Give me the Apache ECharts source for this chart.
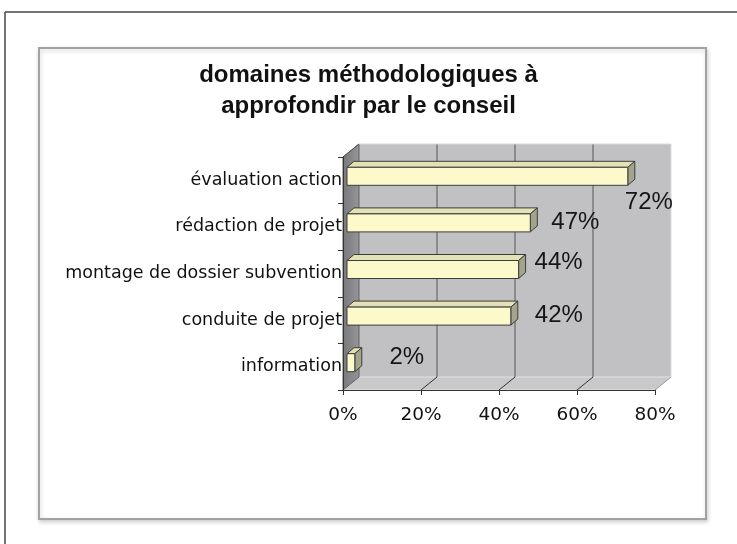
<!DOCTYPE html>
<html>
<head>
<meta charset="utf-8">
<script src="https://cdn.jsdelivr.net/npm/echarts@6/dist/echarts.min.js"></script>
<style>
html,body{margin:0;padding:0;background:#fff;}
#main{width:737px;height:544px;}
</style>
</head>
<body>
<div id="main"></div>
<script>
// ---- data ----
const titleText = 'domaines méthodologiques à\napprofondir par le conseil';
const categories = ['évaluation action', 'rédaction de projet', 'montage de dossier subvention', 'conduite de projet', 'information'];
const values = [72, 47, 44, 42, 2];
const xTicks = [0, 20, 40, 60, 80];

// label offsets (px) of each value label from its bar end (style, not data)
const labelOffsets = [[21, 26], [45, -1], [40, -7], [48, -1], [52, -5]];

const DX = 16, DY = -13;   // depth of the 3D box
const chart = echarts.init(document.getElementById('main'), null, {renderer: 'canvas'});

function wallsRender(params, api) {
  const n = categories.length;
  const a = api.coord([xTicks[0], 0]);
  const b = api.coord([xTicks[xTicks.length - 1], n - 1]);
  const bh = api.size([0, 1])[1];
  const L = a[0], R = b[0], T = a[1] - bh / 2, B = b[1] + bh / 2;
  const children = [];
  children.push({type: 'rect', shape: {x: L + DX, y: T + DY, width: R - L, height: B - T},
    style: {fill: '#c1c1c3'}});
  children.push({type: 'polygon', shape: {points: [[L, B], [L + DX, B + DY], [R + DX, B + DY], [R, B]]},
    style: {fill: '#c9c9cb', stroke: '#e2e2e2', lineWidth: 1}});
  children.push({type: 'polygon', shape: {points: [[L, T], [L + DX, T + DY], [L + DX, B + DY], [L, B]]},
    style: {fill: new echarts.graphic.LinearGradient(0, 0, 1, 0, [
      {offset: 0, color: '#78787b'}, {offset: 1, color: '#96969a'}]), stroke: '#606060', lineWidth: 1}});
  xTicks.forEach(function (t, k) {
    const x = api.coord([t, 0])[0];
    if (k > 0 && k < xTicks.length - 1) {
      children.push({type: 'line', shape: {x1: x + DX, y1: T + DY, x2: x + DX, y2: B + DY},
        style: {stroke: '#555', lineWidth: 1}});
    }
    if (k > 0) {
      children.push({type: 'line', shape: {x1: x, y1: B, x2: x + DX, y2: B + DY},
        style: {stroke: k === xTicks.length - 1 ? '#9a9a9a' : '#333', lineWidth: 1}});
    }
  });
  children.push({type: 'line', shape: {x1: R + DX, y1: T + DY, x2: R + DX, y2: B + DY},
    style: {stroke: '#dcdcdc', lineWidth: 1}});
  children.push({type: 'line', shape: {x1: L + DX, y1: T + DY, x2: R + DX, y2: T + DY},
    style: {stroke: '#d8d8d8', lineWidth: 1}});
  children.push({type: 'line', shape: {x1: L, y1: T, x2: L + DX, y2: T + DY},
    style: {stroke: '#555', lineWidth: 1}});
  return {type: 'group', children: children};
}

function barRender(params, api) {
  const v = api.value(0), i = api.value(1);
  const s = api.coord([0, i]), e = api.coord([v, i]);
  const ox = 4, oy = -4, h = 18, dx = 7, dy = -6;
  const x0 = s[0] + ox, x1 = e[0] + ox, yc = s[1] + oy;
  const y0 = yc - h / 2, y1 = yc + h / 2;
  const line = {stroke: '#3c3c3c', lineWidth: 1, lineJoin: 'round'};
  const off = labelOffsets[i] || [30, 0];
  return {type: 'group', children: [
    {type: 'polygon', shape: {points: [[x0, y0], [x0 + dx, y0 + dy], [x1 + dx, y0 + dy], [x1, y0]]},
      style: Object.assign({fill: '#e4e2b4'}, line)},
    {type: 'polygon', shape: {points: [[x1, y0], [x1 + dx, y0 + dy], [x1 + dx, y1 + dy], [x1, y1]]},
      style: Object.assign({fill: '#a3a48a'}, line)},
    {type: 'rect', shape: {x: x0, y: y0, width: x1 - x0, height: h},
      style: Object.assign({fill: '#fcfacb'}, line)},
    {type: 'text', x: x1 + off[0], y: yc + off[1],
      style: {text: v + '%', fill: '#161616', fontSize: 24, fontFamily: 'Liberation Sans',
        align: 'center', verticalAlign: 'middle'}}
  ]};
}

const option = {
  backgroundColor: '#ffffff',
  animation: false,
  graphic: [
    {type: 'line', z: 0, shape: {x1: 5, y1: 12, x2: 737, y2: 12}, style: {stroke: '#444', lineWidth: 1.5}},
    {type: 'line', z: 0, shape: {x1: 5, y1: 12, x2: 5, y2: 544}, style: {stroke: '#444', lineWidth: 1.5}},
    {type: 'rect', z: 0, shape: {x: 39, y: 48, width: 667, height: 471},
      style: {fill: '#ffffff', stroke: '#a2a2a2', lineWidth: 2,
        shadowBlur: 4, shadowColor: 'rgba(0,0,0,0.18)', shadowOffsetX: 1, shadowOffsetY: 2}}
  ],
  title: {
    text: titleText,
    left: 'center',
    top: 55,
    textStyle: {fontFamily: 'Liberation Sans', fontWeight: 'bold', fontSize: 24, lineHeight: 31, color: '#111'}
  },
  grid: {left: 343, top: 157, width: 312, height: 233, containLabel: false},
  xAxis: {
    type: 'value', min: xTicks[0], max: xTicks[xTicks.length - 1], interval: xTicks[1] - xTicks[0],
    z: 3,
    axisLine: {show: true, lineStyle: {color: '#333', width: 1}},
    axisTick: {show: true, length: 5, lineStyle: {color: '#333'}},
    splitLine: {show: false},
    axisLabel: {formatter: '{value}%', fontFamily: 'DejaVu Sans', fontSize: 18.5, color: '#111', margin: 16}
  },
  yAxis: {
    type: 'category', data: categories, inverse: true,
    z: 3,
    axisLine: {show: true, lineStyle: {color: '#333', width: 1}},
    axisTick: {show: true, length: 5, lineStyle: {color: '#333'}},
    splitLine: {show: false},
    axisLabel: {fontFamily: 'DejaVu Sans', fontSize: 17.5, color: '#111', margin: 1}
  },
  series: [
    {type: 'custom', name: 'walls', z: 1, clip: false, silent: true,
      renderItem: wallsRender, data: [[0, 0]]},
    {type: 'custom', name: 'bars', z: 4, clip: false,
      renderItem: barRender, data: values.map(function (v, i) { return [v, i]; })}
  ]
};
chart.setOption(option);
</script>
</body>
</html>
